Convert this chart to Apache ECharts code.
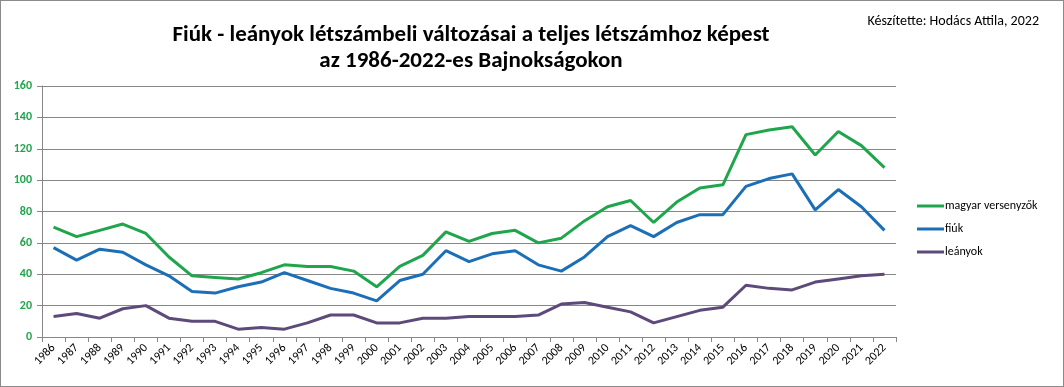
<!DOCTYPE html>
<html><head><meta charset="utf-8">
<script src="https://cdn.jsdelivr.net/npm/echarts@6/dist/echarts.min.js"></script>
<style>
html,body{margin:0;padding:0;background:#fff;}
#c{width:1064px;height:387px;box-sizing:border-box;border:1px solid #8a8a8a;}
</style></head>
<body><div id="c"></div>
<script>
const years = ['1986','1987','1988','1989','1990','1991','1992','1993','1994','1995','1996','1997','1998','1999','2000','2001','2002','2003','2004','2005','2006','2007','2008','2009','2010','2011','2012','2013','2014','2015','2016','2017','2018','2019','2020','2021','2022'];
const magyar = [70,64,68,72,66,51,39,38,37,41,46,45,45,42,32,45,52,67,61,66,68,60,63,74,83,87,73,86,95,97,129,132,134,116,131,122,108];
const fiuk   = [57,49,56,54,46,39,29,28,32,35,41,36,31,28,23,36,40,55,48,53,55,46,42,51,64,71,64,73,78,78,96,101,104,81,94,83,68];
const leanyok= [13,15,12,18,20,12,10,10,5,6,5,9,14,14,9,9,12,12,13,13,13,14,21,22,19,16,9,13,17,19,33,31,30,35,37,39,40];
const seriesNames = ['magyar versenyzők','fiúk','leányok'];
const colors = ['#1fa64c','#1b6fb6','#5d4a7a'];

const chart = echarts.init(document.getElementById('c'), null, {renderer:'canvas'});
const font = 'Carlito, Lato, "Open Sans", sans-serif';
chart.setOption({
  animation:false,
  title:[{
    text:'Fiúk - leányok létszámbeli változásai a teljes létszámhoz képest\naz 1986-2022-es Bajnokságokon',
    left:470, top:21, textAlign:'center', padding:0,
    textStyle:{fontFamily:font,fontWeight:'bold',fontSize:23,lineHeight:26,color:'#000'}
  },{
    text:'Készítette: Hodács Attila, 2022',
    right:24, top:13, padding:0,
    textStyle:{fontFamily:font,fontWeight:'normal',fontSize:14,color:'#000'}
  }],
  grid:{left:41,right:167,top:85,bottom:49,containLabel:false},
  legend:{
    orient:'vertical', left:916, top:199, itemGap:11, padding:0,
    itemWidth:27, itemHeight:3, icon:'rect',
    textStyle:{fontFamily:font,fontSize:12,color:'#000',padding:[0,0,0,-4]},
    data:seriesNames
  },
  xAxis:{
    type:'category', data:years, boundaryGap:true,
    axisLine:{lineStyle:{color:'#878787'}},
    axisTick:{show:true,length:5,lineStyle:{color:'#878787'}},
    axisLabel:{rotate:45,fontFamily:font,fontSize:12,color:'#000',margin:9,interval:0}
  },
  yAxis:{
    type:'value', min:0, max:160, interval:20,
    axisLine:{show:true,lineStyle:{color:'#878787'}},
    axisTick:{show:true,length:5,lineStyle:{color:'#878787'}},
    splitLine:{lineStyle:{color:'#878787'}},
    axisLabel:{fontFamily:font,fontSize:12,fontWeight:'bold',color:'#1fa64c',margin:10}
  },
  series:[
    {name:seriesNames[0],type:'line',data:magyar,symbol:'none',lineStyle:{width:3,color:colors[0]},itemStyle:{color:colors[0]}},
    {name:seriesNames[1],type:'line',data:fiuk,symbol:'none',lineStyle:{width:3,color:colors[1]},itemStyle:{color:colors[1]}},
    {name:seriesNames[2],type:'line',data:leanyok,symbol:'none',lineStyle:{width:3,color:colors[2]},itemStyle:{color:colors[2]}}
  ]
});
</script></body></html>
